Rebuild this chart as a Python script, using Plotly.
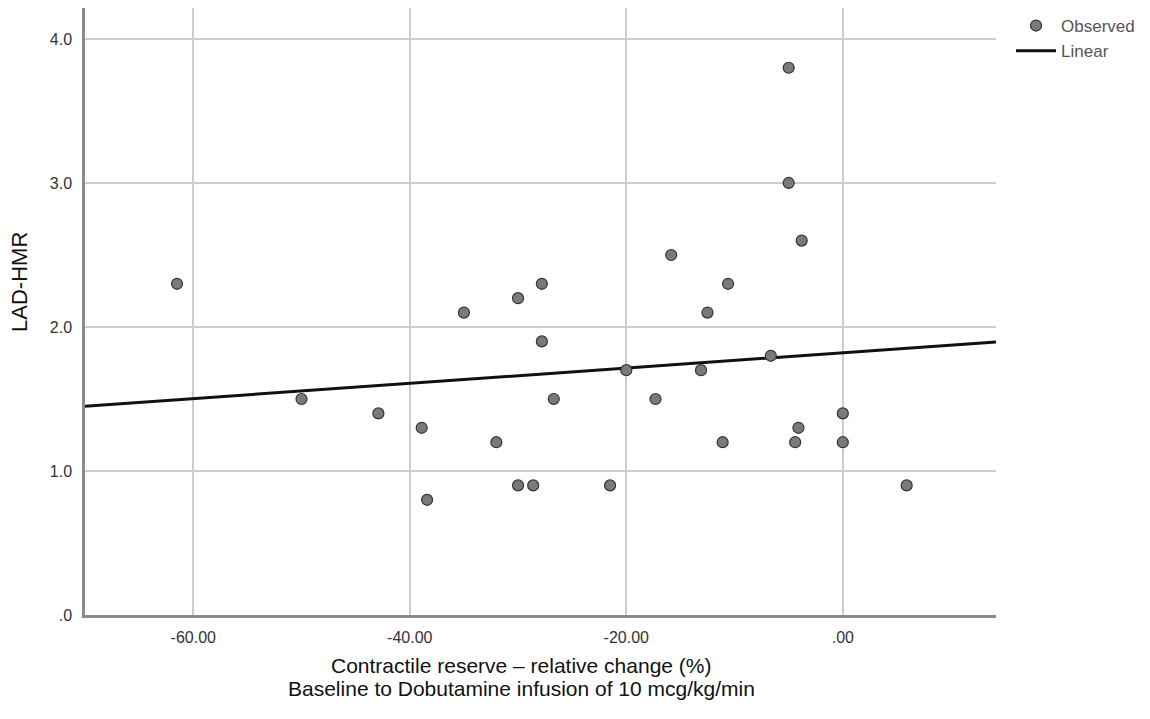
import numpy as np
import plotly.graph_objects as go

contractile_reserve = [-61.5, -50.0, -42.9, -38.9, -38.4, -35.0, -30.0, -32.0, -30.0, -28.6,
                       -27.8, -27.8, -26.7, -21.5, -20.0, -17.3, -15.85, -12.5, -13.1, -11.1,
                       -10.6, -6.65, -5.0, -5.0, -3.8, -4.1, -4.4, 0.0, 0.0, 5.9]
lad_hmr = [2.3, 1.5, 1.4, 1.3, 0.8, 2.1, 2.2, 1.2, 0.9, 0.9,
           1.9, 2.3, 1.5, 0.9, 1.7, 1.5, 2.5, 2.1, 1.7, 1.2,
           2.3, 1.8, 3.8, 3.0, 2.6, 1.3, 1.2, 1.4, 1.2, 0.9]

# Linear fit line
fit_intercept = 1.821
fit_slope = 0.00531
x_range = [-70, 14.15]
y_range = [0, 4.215]

x_tickvals = [-60, -40, -20, 0]
x_ticktext = ["-60.00", "-40.00", "-20.00", ".00"]
y_tickvals = [0, 1, 2, 3, 4]
y_ticktext = [".0", "1.0", "2.0", "3.0", "4.0"]

x_title_lines = ["Contractile reserve – relative change (%)",
                 "Baseline to Dobutamine infusion of 10 mcg/kg/min"]
y_title = "LAD-HMR"

line_x = np.array(x_range)
line_y = fit_intercept + fit_slope * line_x

FONT = "Liberation Sans, Arial, sans-serif"

fig = go.Figure()
fig.add_trace(go.Scatter(
    x=line_x, y=line_y, mode="lines", name="Linear",
    line=dict(color="#111111", width=3), showlegend=True,
))
fig.add_trace(go.Scatter(
    x=contractile_reserve, y=lad_hmr, mode="markers", name="Observed",
    marker=dict(size=11, color="#7a7a7a", line=dict(color="#333333", width=1.2)),
))

fig.update_layout(
    width=1142, height=709,
    margin=dict(l=77, r=154, t=0, b=102),
    paper_bgcolor="white", plot_bgcolor="white",
    font=dict(family=FONT, color="#222222"),
    legend=dict(x=1.0165, y=1.0, xanchor="left", yanchor="top",
                traceorder="reversed",
                font=dict(size=17, color="#555555", family=FONT),
                bgcolor="rgba(0,0,0,0)", itemwidth=40, tracegroupgap=0),
    xaxis=dict(
        range=x_range, tickvals=x_tickvals, ticktext=x_ticktext,
        showgrid=True, gridcolor="#cccccc", gridwidth=1.5,
        zeroline=False, showline=True, linecolor="#8a8a8a", linewidth=2.5,
        ticks="", ticklabelstandoff=6, tickfont=dict(size=16, color="#333333"),
    ),
    yaxis=dict(
        range=y_range, tickvals=y_tickvals, ticktext=y_ticktext,
        showgrid=True, gridcolor="#cccccc", gridwidth=1.5,
        zeroline=False, showline=True, linecolor="#8a8a8a", linewidth=2.5,
        ticks="", ticklabelstandoff=7, tickfont=dict(size=16, color="#333333"),
    ),
    annotations=[
        dict(text=x_title_lines[0], xref="paper", yref="paper", x=0.4786, y=-0.0824,
             xanchor="center", yanchor="middle", showarrow=False,
             font=dict(size=21, color="#111111", family=FONT)),
        dict(text=x_title_lines[1], xref="paper", yref="paper", x=0.4786, y=-0.1203,
             xanchor="center", yanchor="middle", showarrow=False,
             font=dict(size=21, color="#111111", family=FONT)),
        dict(text=y_title, xref="paper", yref="paper", x=-0.0714, y=0.5486,
             xanchor="center", yanchor="middle", showarrow=False, textangle=-90,
             font=dict(size=22, color="#111111", family=FONT)),
    ],
)

fig.write_html("out.html")
